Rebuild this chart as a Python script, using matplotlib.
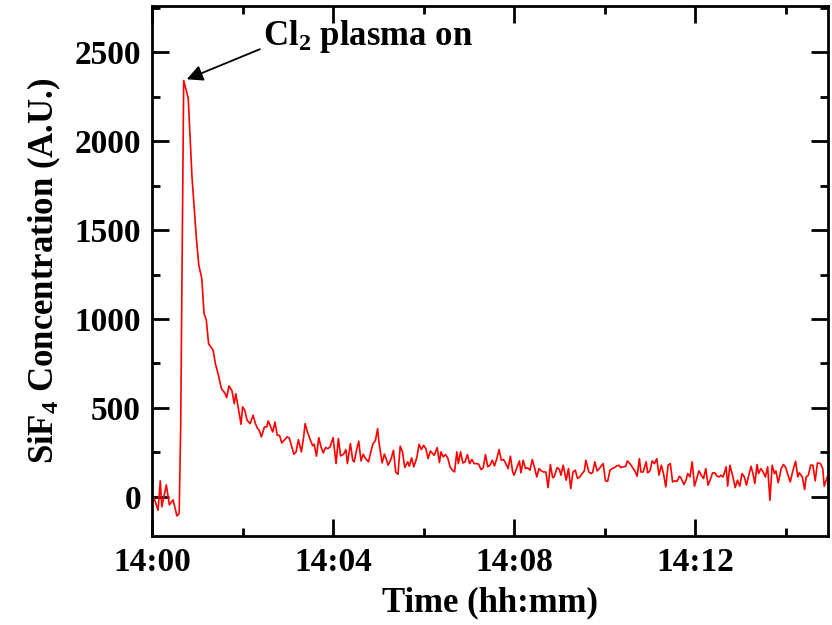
import matplotlib
matplotlib.use("Agg")
import matplotlib.pyplot as plt
from matplotlib.ticker import MultipleLocator, FixedLocator

plt.rcParams['font.family'] = 'Liberation Serif'
plt.rcParams['font.weight'] = 'bold'
plt.rcParams['mathtext.fontset'] = 'custom'
plt.rcParams['mathtext.rm'] = 'Liberation Serif:bold'
plt.rcParams['mathtext.it'] = 'Liberation Serif:bold'
plt.rcParams['mathtext.bf'] = 'Liberation Serif:bold'

# seconds after 14:00
t_sec = [0, 3, 8, 11, 13, 19, 23, 28, 33, 36, 38, 42, 48, 53, 59, 62, 66, 69, 72, 75,
         81, 84, 88, 92, 97, 99, 102, 106, 109, 111, 114, 118, 120, 123, 126, 130, 134,
         137, 140, 142, 145, 149, 152, 154, 157, 160, 163, 166, 169, 172, 175, 179, 182,
         184, 188, 191, 194, 198, 201, 203, 206, 210, 213, 215, 218, 221, 224, 227, 230,
         233, 236, 240, 244, 247, 250, 254, 257, 259, 263, 266, 268, 271, 274, 277, 280,
         283, 287, 290, 293, 296, 299, 301, 305, 308, 310, 313, 317, 320, 323, 326, 329,
         332, 335, 339, 341, 344, 347, 351, 354, 357, 360, 363, 366, 369, 372, 374, 378,
         381, 383, 386, 389, 392, 395, 398, 401, 404, 406, 409, 412, 415, 418, 421, 424,
         427, 430, 433, 436, 439, 442, 445, 448, 451, 454, 457, 460, 463, 466, 469, 472,
         475, 478, 480, 484, 487, 489, 492, 495, 498, 501, 504, 507, 510, 513, 516, 519,
         522, 525, 528, 531, 533, 537, 540, 542, 545, 549, 552, 555, 558, 561, 564, 567,
         570, 573, 575, 579, 582, 584, 587, 590, 593, 595, 598, 601, 604, 607, 610, 613,
         616, 619, 621, 625, 628, 630, 634, 637, 640, 643, 646, 648, 651, 655, 657, 660,
         663, 666, 669, 672, 675, 678, 681, 684, 687, 690, 693, 696, 699, 701, 705, 708,
         710, 713, 716, 719, 722, 725, 728, 731, 734, 737, 740, 743, 746, 749, 752, 754,
         757, 761, 763, 766, 770, 773, 776, 779, 782, 785, 788, 791, 794, 797, 799, 802,
         804, 807, 810, 813, 816, 819, 822, 825, 827, 830, 834, 837, 840, 843, 846, 849,
         853, 856, 858, 862, 865, 867, 870, 873, 876, 879, 882, 886, 889, 891, 895, 898]

sif4 = [9, -9, -75, 90, -56, 67, -45, -17, -107, -94, 393, 2341, 2243, 1798, 1444, 1303,
        1227, 1030, 994, 861, 825, 749, 685, 609, 580, 558, 624, 596, 524, 580, 509, 408,
        506, 487, 431, 412, 459, 412, 384, 375, 337, 393, 393, 427, 397, 365, 421, 346,
        346, 303, 318, 337, 331, 300, 240, 253, 322, 253, 337, 412, 365, 318, 287, 296,
        229, 333, 281, 247, 277, 271, 281, 333, 187, 328, 230, 240, 266, 187, 300, 206,
        197, 262, 313, 202, 240, 215, 197, 253, 300, 315, 384, 300, 191, 240, 219, 178,
        215, 262, 140, 127, 285, 253, 165, 197, 172, 219, 169, 221, 296, 266, 290, 271,
        215, 258, 243, 234, 277, 193, 253, 225, 238, 219, 169, 150, 140, 253, 187, 253,
        191, 197, 238, 187, 210, 187, 187, 184, 154, 163, 238, 169, 178, 206, 174, 215,
        266, 206, 210, 187, 159, 229, 140, 122, 169, 202, 135, 206, 159, 163, 150, 210,
        165, 112, 159, 146, 140, 140, 52, 182, 108, 112, 165, 154, 122, 178, 94, 159, 47,
        140, 150, 103, 112, 131, 146, 206, 140, 131, 137, 197, 146, 159, 172, 187, 90, 88,
        150, 159, 165, 174, 178, 165, 169, 172, 202, 184, 165, 146, 116, 215, 140, 140,
        197, 135, 146, 202, 187, 215, 122, 178, 131, 56, 178, 187, 84, 90, 88, 116, 108,
        69, 97, 131, 112, 197, 60, 103, 146, 122, 103, 159, 66, 97, 135, 135, 116, 112,
        122, 112, 169, 60, 178, 112, 52, 94, 60, 131, 112, 66, 122, 172, 122, 75, 182, 131,
        159, 140, 112, 169, -19, 178, 131, 146, 79, 159, 182, 165, 122, 84, 140, 200, 112,
        135, 112, 41, 112, 122, 178, 178, 90, 191, 187, 159, 60, 112, 116]

tick_pos = [0, 240, 480, 720]
tick_labels = ['14:00', '14:04', '14:08', '14:12']

fig = plt.figure(figsize=(8.32, 6.25), dpi=100)
ax = fig.add_axes([0.1827, 0.1424, 0.8125, 0.848])

ax.plot(t_sec, sif4, color='red', lw=1.2)

ax.set_xlim(0, 896)
ax.set_ylim(-220, 2760)
ax.xaxis.set_major_locator(FixedLocator(tick_pos))
ax.set_xticklabels(tick_labels)
ax.xaxis.set_minor_locator(MultipleLocator(120))
ax.yaxis.set_major_locator(MultipleLocator(500))
ax.yaxis.set_minor_locator(MultipleLocator(250))

ax.tick_params(which='both', direction='in', top=True, right=True, width=2,
               labelsize=24, pad=8)
ax.tick_params(which='major', length=12)
ax.tick_params(which='minor', length=6)
for s in ax.spines.values():
    s.set_linewidth(2)

ax.set_xlabel('Time (hh:mm)', fontsize=25, fontweight='bold', labelpad=6)
ax.set_ylabel('SiF$_4$ Concentration (A.U.)', fontsize=25, fontweight='bold', labelpad=8)

ax.annotate('', xy=(46, 2348), xytext=(143, 2517),
            arrowprops=dict(arrowstyle='-|>', color='black', lw=1.3, mutation_scale=24,
                            shrinkA=0, shrinkB=0))
ax.text(147, 2590, 'Cl$_2$ plasma on', fontsize=25, fontweight='bold',
        ha='left', va='center')

fig.savefig('out.png', dpi=100)
